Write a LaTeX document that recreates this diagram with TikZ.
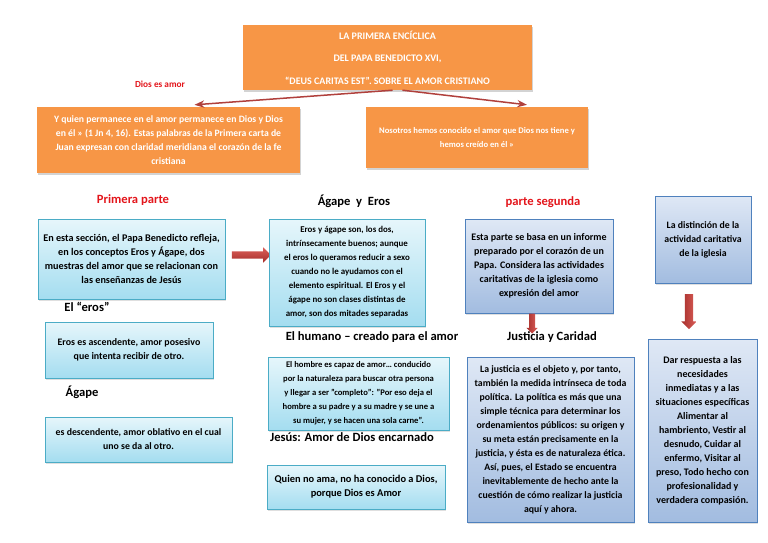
\documentclass[tikz,border=0pt]{standalone}
\usepackage{fontspec}
\setmainfont{Carlito}
\usepackage{xcolor}
\usepackage{tikz}
\usetikzlibrary{arrows.meta,shapes.arrows,shadows}
\definecolor{orangeFill}{HTML}{F79646}
\definecolor{aquaEdge}{HTML}{4BACC6}
\definecolor{aquaTop}{HTML}{E6F6FB}
\definecolor{aquaBottom}{HTML}{A4DDF0}
\definecolor{blueEdge}{HTML}{4F81BD}
\definecolor{blueTop}{HTML}{DFE8F5}
\definecolor{blueBottom}{HTML}{A2BCE0}
\definecolor{linkRed}{HTML}{B0403C}
\definecolor{arrowLight}{HTML}{DC5F5A}
\definecolor{arrowDark}{HTML}{A52E2A}
\definecolor{titleRed}{HTML}{E3151B}

\begin{document}
\begin{tikzpicture}[
    x=1pt, y=-1pt,
    >=Stealth,
    fs/.style={font=\fontsize{#1}{14}\selectfont\bfseries},
    txt/.style={fs=8.6, align=center, inner sep=2pt},
    cover/.style={txt, fill=orangeFill, text=white, drop shadow={opacity=0.35, shadow xshift=1pt, shadow yshift=-2pt}},
    aquabox/.style={txt, draw=aquaEdge, line width=0.7pt, top color=aquaTop, bottom color=aquaBottom, drop shadow={opacity=0.25, shadow xshift=1pt, shadow yshift=-1.5pt}},
    bluebox/.style={txt, draw=blueEdge, line width=0.7pt, top color=blueTop, bottom color=blueBottom, drop shadow={opacity=0.25, shadow xshift=1pt, shadow yshift=-1.5pt}},
    title/.style={font=\fontsize{12.6}{14}\selectfont\bfseries},
    redtitle/.style={title, text=titleRed},
    link/.style={->, draw=linkRed, line width=1.5pt},
    bigarrow/.style={single arrow, single arrow head indent=0pt, draw=none}
]
\useasboundingbox (0,0) rectangle (768,543);

\node[cover, minimum width=289, minimum height=65, font=\fontsize{10}{22.5}\selectfont\bfseries] (enciclica) at (387.5,57.5) {LA PRIMERA ENCÍCLICA\\DEL PAPA BENEDICTO XVI,\\“DEUS CARITAS EST”. SOBRE EL AMOR CRISTIANO};
\node[redtitle, font=\fontsize{9.3}{10}\selectfont\bfseries] (diosamor) at (160,84) {Dios es amor};
\node[cover, fs=9.7, minimum width=263, minimum height=66] (juan) at (168.5,140) {Y quien permanece en el amor permanece en Dios y Dios\\en él » (1 Jn 4, 16). Estas palabras de la Primera carta de\\Juan expresan con claridad meridiana el corazón de la fe\\cristiana};
\node[cover, minimum width=222, minimum height=61] (nosotros) at (477,137.5) {Nosotros hemos conocido el amor que Dios nos tiene y\\hemos creído en él »};
\draw[link] ([xshift=5pt]enciclica.south) -- ([xshift=26pt, yshift=2pt]juan.north);
\draw[link] ([xshift=15pt]enciclica.south) -- ([xshift=50pt, yshift=2pt]nosotros.north);

% primera parte
\node[redtitle] (parte1) at (133,200) {Primera parte};
\node[aquabox, fs=10.2, minimum width=187, minimum height=80] (seccion) at (131.5,259) {En esta sección, el Papa Benedicto refleja,\\en los conceptos Eros y Ágape, dos\\muestras del amor que se relacionan con\\las enseñanzas de Jesús};
\node[title] (eros) at (87,307) {El “eros”};
\node[aquabox, fs=9.9, minimum width=168, minimum height=56] (ascendente) at (129,350) {Eros es ascendente, amor posesivo\\que intenta recibir de otro.};
\node[title] (agape) at (82,392) {Ágape};
\node[aquabox, fs=9.8, minimum width=187, minimum height=45] (descendente) at (138.5,439.5) {es descendente, amor oblativo en el cual\\uno se da al otro.};
\node[bigarrow, minimum height=39, inner sep=3.5pt, single arrow head extend=4pt, top color=arrowLight, bottom color=arrowDark] (flecha1) at (249.5,255) {};

\node[title] (agapeeros) at (354,201) {Ágape\ \ y\ \ Eros};
\node[aquabox, fs=8.9, minimum width=156, minimum height=107] (buenos) at (347,272.5) {Eros y ágape son, los dos,\\intrínsecamente buenos; aunque\\el eros lo queramos reducir a sexo\\cuando no le ayudamos con el\\elemento espiritual. El Eros y el\\ágape no son clases distintas de\\amor, son dos mitades separadas};
\node[title] (humano) at (372,337) {El humano – creado para el amor};
\node[aquabox, minimum width=181, minimum height=73] (hombre) at (358.5,393.5) {El hombre es capaz de amor… conducido\\por la naturaleza para buscar otra persona\\y llegar a ser "completo”: "Por eso deja el\\hombre a su padre y a su madre y se une a\\su mujer, y se hacen una sola carne".};
\node[title] (jesus) at (352,437) {Jesús: Amor de Dios encarnado};
\node[aquabox, fs=10.4, minimum width=178, minimum height=44] (quien) at (356,487) {Quien no ama, no ha conocido a Dios,\\porque Dios es Amor};

% parte segunda
\node[redtitle] (parte2) at (543,202) {parte segunda};
\node[bluebox, fs=10, minimum width=148, minimum height=94] (informe) at (539,266) {Esta parte se basa en un informe\\preparado por el corazón de un\\Papa. Considera las actividades\\caritativas de la iglesia como\\expresión del amor};
\node[bigarrow, shape border rotate=270, minimum height=20, inner sep=2.8pt, single arrow head extend=2.7pt, left color=arrowDark, right color=arrowLight] (flecha2) at (532,322) {};
\node[title] (justicia) at (552,337) {Justicia y Caridad};
\node[bluebox, fs=9.8, minimum width=167, minimum height=165] (objeto) at (550.5,439.5) {La justicia es el objeto y, por tanto,\\también la medida intrínseca de toda\\política. La política es más que una\\simple técnica para determinar los\\ordenamientos públicos: su origen y\\su meta están precisamente en la\\justicia, y ésta es de naturaleza ética.\\Así, pues, el Estado se encuentra\\inevitablemente de hecho ante la\\cuestión de cómo realizar la justicia\\aquí y ahora.};

\node[bluebox, fs=9.8, minimum width=96, minimum height=87] (distincion) at (703,239.5) {La distinción de la\\actividad caritativa\\de la iglesia};
\node[bigarrow, shape border rotate=270, minimum height=35, inner sep=4pt, single arrow head extend=3.5pt, left color=arrowDark, right color=arrowLight] (flecha3) at (689,309.5) {};
\node[bluebox, fs=10, minimum width=109, minimum height=183] (respuesta) at (702.5,430.5) {Dar respuesta a las\\necesidades\\inmediatas y a las\\situaciones específicas\\Alimentar al\\hambriento, Vestir al\\desnudo, Cuidar al\\enfermo, Visitar al\\preso, Todo hecho con\\profesionalidad y\\verdadera compasión.};
\end{tikzpicture}
\end{document}
